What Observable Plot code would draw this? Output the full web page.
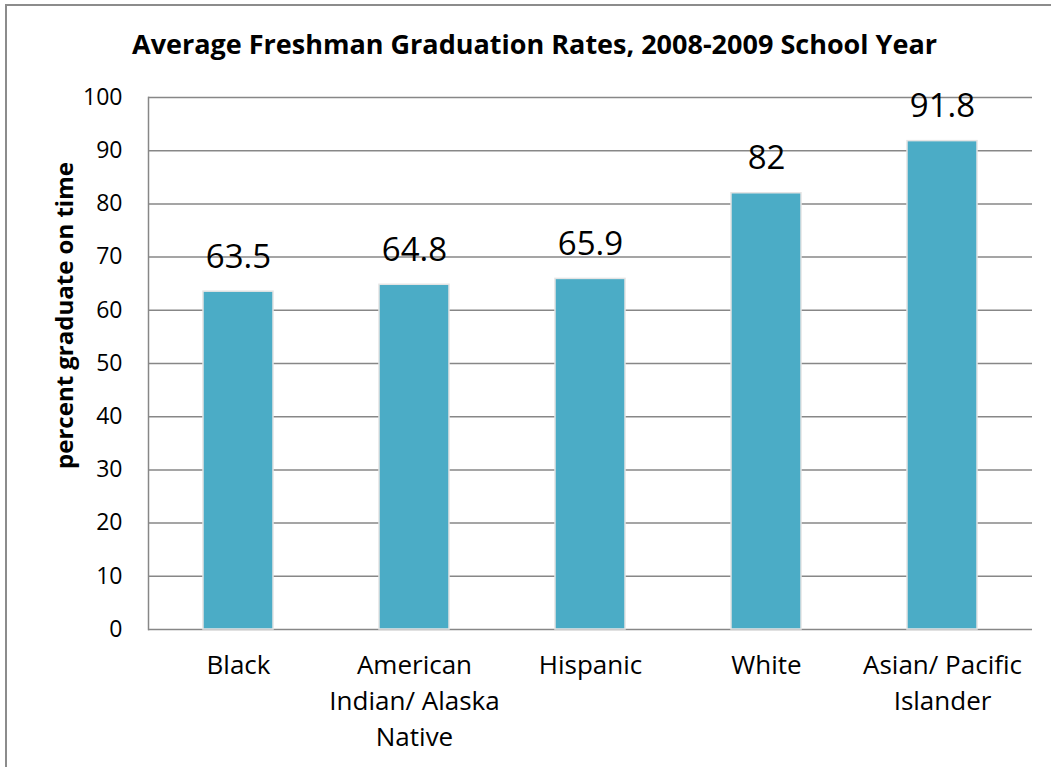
<!DOCTYPE html>
<html>
<head>
<meta charset="utf-8">
<script src="https://cdn.jsdelivr.net/npm/d3@7"></script>
<script src="https://cdn.jsdelivr.net/npm/@observablehq/plot@0.6"></script>
<style>
  html, body { margin: 0; padding: 0; background: white; overflow: hidden; }
  #wrap { position: relative; width: 1051px; height: 767px; }
  #border { position: absolute; left: 5px; top: 4px; width: 1060px; height: 780px; border: 2px solid #8c8c8c; box-sizing: border-box; pointer-events: none; }
</style>
</head>
<body>
<div id="wrap"><div id="border"></div></div>
<script>
const categories = ["Black", "American\nIndian/ Alaska\nNative", "Hispanic", "White", "Asian/ Pacific\nIslander"];
const values = [63.5, 64.8, 65.9, 82, 91.8];
const yTicks = [0, 10, 20, 30, 40, 50, 60, 70, 80, 90, 100];
const title = "Average Freshman Graduation Rates, 2008-2009 School Year";
const yLabel = "percent graduate on time";

const data = categories.map((c, i) => ({category: c, value: values[i]}));
const font = "'Open Sans', 'Noto Sans', sans-serif";

const chart = Plot.plot({
  width: 1051,
  height: 767,
  marginLeft: 148,
  marginRight: 19,
  marginTop: 97,
  marginBottom: 138,
  style: {fontFamily: font, background: "white", color: "black"},
  x: {domain: categories, paddingInner: 0.6, paddingOuter: 0.3, label: null},
  y: {domain: [0, 100], ticks: yTicks, label: null},
  marks: [
    Plot.gridY(yTicks, {stroke: "#878787", strokeOpacity: 1, strokeWidth: 1.5}),
    Plot.frame({anchor: "left", stroke: "#878787", strokeWidth: 1.5}),
    Plot.barY(data, {x: "category", y: "value", fill: "#4BACC6", stroke: "#e4e4e4", strokeWidth: 1.5}),
    Plot.text(data, {x: "category", y: "value", text: d => String(d.value), lineAnchor: "bottom", dy: -24, fontSize: 33, fill: "black"}),
    Plot.axisY({ticks: yTicks, tickSize: 0, tickPadding: 26, fontSize: 23, label: null}),
    Plot.axisX({tickSize: 0, tickPadding: 19, fontSize: 26, lineHeight: 1.385, label: null}),
    Plot.text([title], {frameAnchor: "top", lineAnchor: "middle", dx: -56, dy: -52, fontWeight: "bold", fontSize: 27, fill: "black"}),
    Plot.text([yLabel], {frameAnchor: "left", textAnchor: "middle", lineAnchor: "middle", rotate: -90, dx: -83, dy: -48, fontWeight: "bold", fontSize: 24, fill: "black"})
  ]
});
document.getElementById("wrap").prepend(chart);
</script>
</body>
</html>
